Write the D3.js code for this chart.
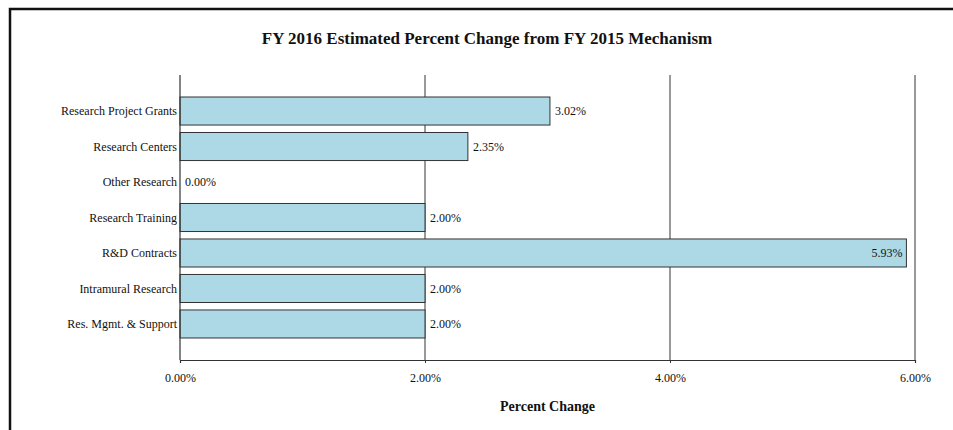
<!DOCTYPE html>
<html>
<head>
<meta charset="utf-8">
<script src="https://cdn.jsdelivr.net/npm/d3@7"></script>
<style>
  body { margin: 0; background: #fff; }
  text { font-family: "Liberation Serif", "Times New Roman", serif; fill: #111; }
</style>
</head>
<body>
<script>
// data
const categories = ["Research Project Grants", "Research Centers", "Other Research",
  "Research Training", "R&D Contracts", "Intramural Research", "Res. Mgmt. & Support"];
const values = [3.02, 2.35, 0.00, 2.00, 5.93, 2.00, 2.00];
const ticks = [0, 2, 4, 6];

const width = 953, height = 430;
const plotLeft = 180, plotRight = 915, plotTop = 75, plotBottom = 360;

const svg = d3.select("body").append("svg")
  .attr("width", width).attr("height", height);

// frame
svg.append("path")
  .attr("d", `M10,${height + 5} L10,9 L${width + 5},9`)
  .style("fill", "none").style("stroke", "#111").style("stroke-width", 2.5);

const x = d3.scaleLinear().domain([0, 6]).range([plotLeft, plotRight]);
const y = d3.scaleBand().domain(categories).range([plotTop, plotBottom])
  .paddingInner(0.21).paddingOuter(0.62);

// title
svg.append("text")
  .attr("x", 487).attr("y", 44)
  .attr("text-anchor", "middle")
  .style("font-size", "17px").style("font-weight", "bold")
  .text("FY 2016 Estimated Percent Change from FY 2015 Mechanism");

// gridlines
svg.append("g").selectAll("line")
  .data(ticks.slice(1))
  .join("line")
  .attr("x1", d => x(d)).attr("x2", d => x(d))
  .attr("y1", plotTop).attr("y2", plotBottom)
  .style("stroke", "#555").style("stroke-width", 1.2);

// bars
svg.append("g").selectAll("rect")
  .data(values)
  .join("rect")
  .attr("x", x(0))
  .attr("y", (d, i) => y(categories[i]))
  .attr("width", d => x(d) - x(0))
  .attr("height", y.bandwidth())
  .style("fill", "#add8e6")
  .style("stroke", "#333")
  .style("stroke-width", 1);

// value labels
svg.append("g").selectAll("text")
  .data(values)
  .join("text")
  .attr("x", d => d > 5 ? x(d) - 4 : x(d) + 5)
  .attr("y", (d, i) => y(categories[i]) + y.bandwidth() / 2)
  .attr("dy", "0.35em")
  .attr("text-anchor", d => d > 5 ? "end" : "start")
  .style("font-size", "12px")
  .text(d => d.toFixed(2) + "%");

// category labels
svg.append("g").selectAll("text")
  .data(categories)
  .join("text")
  .attr("x", plotLeft - 3)
  .attr("y", d => y(d) + y.bandwidth() / 2)
  .attr("dy", "0.35em")
  .attr("text-anchor", "end")
  .style("font-size", "12px")
  .text(d => d);

// left axis line
svg.append("line")
  .attr("x1", plotLeft).attr("x2", plotLeft).attr("y1", plotTop).attr("y2", plotBottom)
  .style("stroke", "#333").style("stroke-width", 1.2);

// x axis
const xAxis = svg.append("g")
  .attr("transform", `translate(0,${plotBottom})`)
  .call(d3.axisBottom(x).tickValues(ticks).tickSize(3).tickPadding(10)
    .tickFormat(d => d.toFixed(2) + "%"));
xAxis.select(".domain").style("stroke", "#333").style("stroke-width", 1.2);
xAxis.selectAll(".tick line").style("stroke", "#333");
xAxis.selectAll("text").style("font-size", "12px")
  .style("font-family", "\"Liberation Serif\", serif").style("fill", "#111");

svg.append("text")
  .attr("x", (plotLeft + plotRight) / 2).attr("y", 411)
  .attr("text-anchor", "middle")
  .style("font-size", "14px").style("font-weight", "bold")
  .text("Percent Change");
</script>
</body>
</html>
